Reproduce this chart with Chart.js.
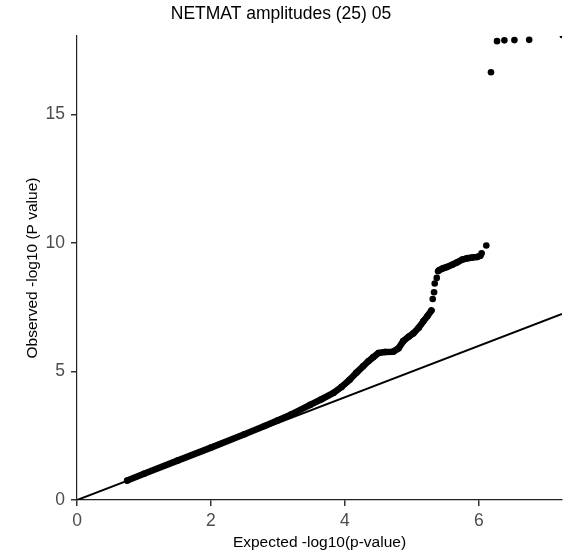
<!DOCTYPE html>
<html>
<head>
<meta charset="utf-8">
<script src="https://cdn.jsdelivr.net/npm/chart.js@4/dist/chart.umd.min.js"></script>
<style>
html,body{margin:0;padding:0;background:#fff;}
#wrap{width:575px;height:556px;}
</style>
</head>
<body>
<div id="wrap"><canvas id="c" width="575" height="556"></canvas></div>
<script>
// ---- data ----
const chartTitle = "NETMAT amplitudes (25) 05";
const xTitle = "Expected -log10(p-value)";
const yTitle = "Observed -log10 (P value)";
const xTickValues = [0, 2, 4, 6];
const yTickValues = [0, 5, 10, 15];
const xMax = 7.24;
const yMax = 18.05;

// dense band of points (lower part)
const bandX1 = [0.75, 1.0, 1.5, 2.0, 2.5, 2.8, 3.0, 3.2, 3.48, 3.65, 3.83, 3.95, 4.07, 4.17, 4.27, 4.35, 4.42, 4.50, 4.60, 4.72, 4.80, 4.87, 4.95, 5.02, 5.10, 5.17, 5.23, 5.29];
const bandY1 = [0.76, 1.02, 1.53, 2.04, 2.56, 2.88, 3.10, 3.33, 3.70, 3.92, 4.17, 4.40, 4.68, 4.95, 5.20, 5.40, 5.55, 5.72, 5.76, 5.77, 5.90, 6.18, 6.35, 6.48, 6.70, 6.95, 7.15, 7.37];
// dense band (upper shelf)
const bandX2 = [5.41, 5.47, 5.52, 5.60, 5.67, 5.75, 5.82, 5.90, 5.97, 6.02];
const bandY2 = [8.95, 9.02, 9.06, 9.15, 9.24, 9.35, 9.40, 9.43, 9.45, 9.50];
// isolated points
const ptX = [5.31, 5.33, 5.34, 5.37, 5.39, 6.04, 6.11, 6.18, 6.27, 6.38, 6.53, 6.75, 7.25];
const ptY = [7.82, 8.08, 8.42, 8.64, 8.90, 9.60, 9.90, 16.64, 17.85, 17.88, 17.89, 17.90, 18.08];
// reference line y = x
const refX = [0, 7.24];
const refY = [0, 7.24];

const zip = (xs, ys) => xs.map((x, i) => ({x: x, y: ys[i]}));
const FONT = "'Liberation Sans', Arial, Helvetica, sans-serif";
const R = 3.3;

const bandStyle = {
  showLine: true, borderColor: '#000', borderWidth: 2 * R,
  borderCapStyle: 'round', borderJoinStyle: 'round', tension: 0,
  pointRadius: R, pointBackgroundColor: '#000', pointBorderWidth: 0,
  pointHoverRadius: R, clip: 0, order: 0
};

new Chart(document.getElementById('c'), {
  type: 'scatter',
  data: {
    datasets: [
      Object.assign({data: zip(bandX1, bandY1)}, bandStyle),
      Object.assign({data: zip(bandX2, bandY2)}, bandStyle),
      {data: zip(ptX, ptY), showLine: false, pointRadius: R, pointBackgroundColor: '#000',
       pointBorderWidth: 0, pointHoverRadius: R, clip: 0, order: 0},
      {data: zip(refX, refY), showLine: true, borderColor: '#000', borderWidth: 2,
       pointRadius: 0, pointHoverRadius: 0, clip: 0, order: 10}
    ]
  },
  options: {
    responsive: false,
    animation: false,
    events: [],
    layout: {padding: {left: 0, right: 13, top: 0, bottom: 0}},
    plugins: {
      legend: {display: false},
      tooltip: {enabled: false},
      title: {
        display: true, text: chartTitle, color: '#000',
        font: {family: FONT, size: 17.5, weight: 'normal', lineHeight: 1.2},
        padding: {top: 4, bottom: 11}
      }
    },
    scales: {
      x: {
        type: 'linear', min: 0, max: xMax,
        afterFit: s => { s.height = 56; },
        afterBuildTicks: s => { s.ticks = xTickValues.map(v => ({value: v})); },
        ticks: {color: '#4d4d4d', font: {family: FONT, size: 17.5}, padding: 5, maxRotation: 0},
        grid: {display: true, drawOnChartArea: false, drawTicks: true, tickLength: 6, color: '#333', lineWidth: 1.5},
        border: {display: true, color: '#222', width: 1.2},
        title: {display: true, text: xTitle, color: '#000',
          font: {family: FONT, size: 15.5, lineHeight: 1.2}, padding: {top: 0, bottom: 3.7}}
      },
      y: {
        type: 'linear', min: 0, max: yMax,
        afterFit: s => { s.width = 77; },
        afterBuildTicks: s => { s.ticks = yTickValues.map(v => ({value: v})); },
        ticks: {color: '#4d4d4d', font: {family: FONT, size: 17.5}, padding: 6},
        grid: {display: true, drawOnChartArea: false, drawTicks: true, tickLength: 6, color: '#333', lineWidth: 1.5},
        border: {display: true, color: '#222', width: 1.2},
        title: {display: true, text: yTitle, color: '#000',
          font: {family: FONT, size: 15.5, lineHeight: 1.2}, padding: {top: 23, bottom: 0}}
      }
    }
  }
});
</script>
</body>
</html>
